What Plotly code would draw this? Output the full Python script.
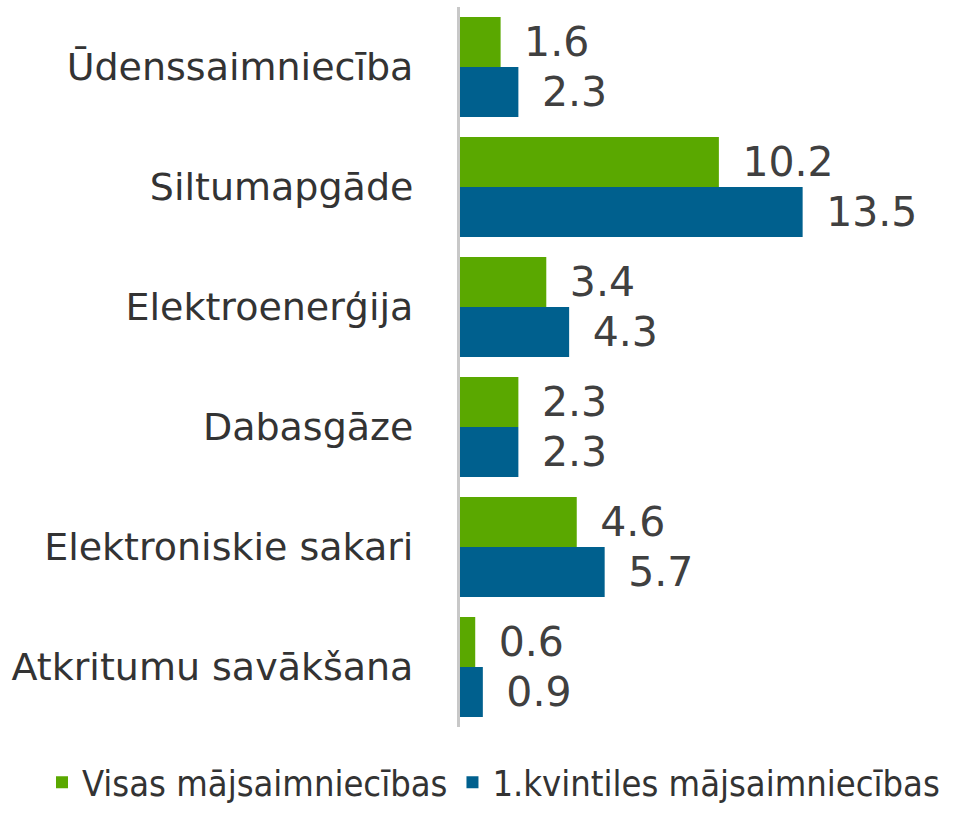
import plotly.graph_objects as go

categories = ["Ūdenssaimniecība", "Siltumapgāde", "Elektroenerģija", "Dabasgāze",
              "Elektroniskie sakari", "Atkritumu savākšana"]
visas = [1.6, 10.2, 3.4, 2.3, 4.6, 0.6]
kvintile = [2.3, 13.5, 4.3, 2.3, 5.7, 0.9]
series_names = ["Visas mājsaimniecības", "1.kvintiles mājsaimniecības"]
colors = ["#5aa800", "#00608e"]

fig = go.Figure()
for name, vals, col in zip(series_names, [visas, kvintile], colors):
    fig.add_trace(go.Bar(
        y=categories, x=vals, orientation="h", name=name,
        marker=dict(color=col, line=dict(width=0)),
        text=["\u2002" + f"{v:.1f}" for v in vals], textposition="outside",
        textfont=dict(family="DejaVu Sans", size=41, color="#404040"),
        cliponaxis=False,
    ))

fig.update_layout(
    width=968, height=813,
    margin=dict(l=460, r=8, t=7, b=86, autoexpand=False),
    paper_bgcolor="white", plot_bgcolor="white",
    barmode="group", bargap=0.167, bargroupgap=0,
    font=dict(family="DejaVu Sans", color="#404040"),
    xaxis=dict(range=[0, 19.7], visible=False, showgrid=False, zeroline=False),
    yaxis=dict(autorange="reversed", showgrid=False, zeroline=False,
               showline=True, linecolor="#c8c8c8", linewidth=3,
               ticks="", ticklabelstandoff=36,
               tickfont=dict(family="DejaVu Sans", size=38, color="#333333")),
    legend=dict(orientation="h", x=-0.836, xanchor="left", y=-0.1185, yanchor="bottom",
                font=dict(family="Liberation Sans Narrow, DejaVu Sans Condensed", size=36, color="#333333"),
                itemwidth=30, traceorder="normal", borderwidth=0),
    showlegend=True,
)
fig.write_html("out.html")
